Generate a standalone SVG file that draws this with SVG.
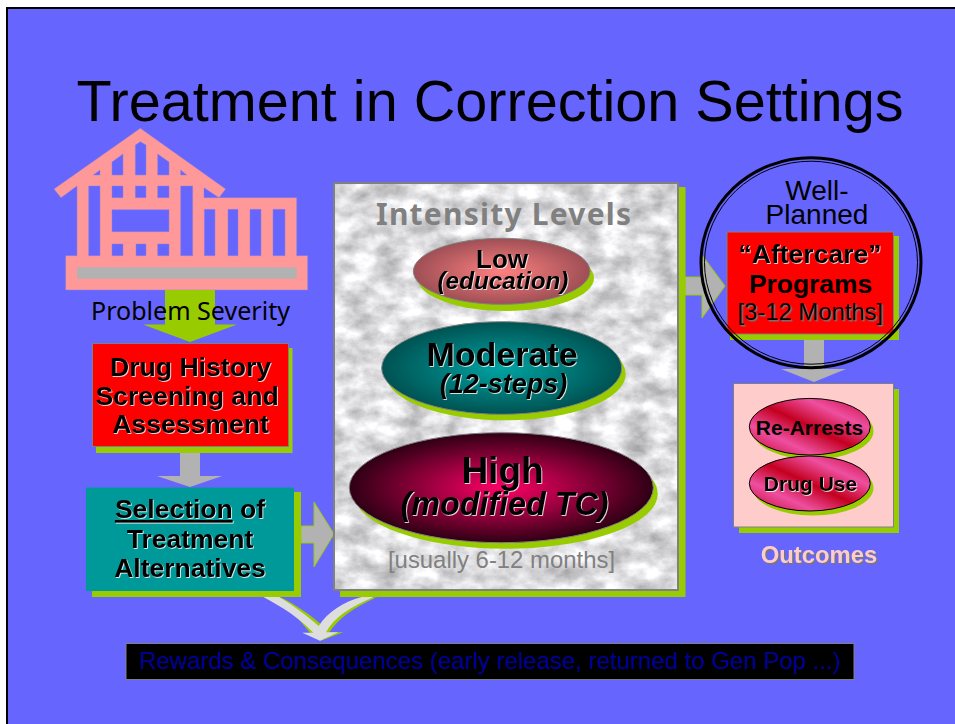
<svg xmlns="http://www.w3.org/2000/svg" width="955" height="724" viewBox="0 0 955 724">
<style>
text{font-family:"Liberation Sans",Arial,sans-serif;fill:#000;text-anchor:middle}
.b{font-weight:bold}.i{font-style:italic}
.sh{filter:url(#ws)}
.green{fill:#99CC00}
.box{stroke:#808080;stroke-width:1}
.ga{fill:#B2B2B2}
.gl{stroke:#99CC00;stroke-width:1}
.ring{fill:none;stroke:#000}
.oval{stroke:#000;stroke-width:1}
</style>
<defs>
<filter id="ws" x="-10%" y="-20%" width="120%" height="140%" color-interpolation-filters="sRGB"><feDropShadow dx=".8" dy=".8" stdDeviation="0" flood-color="#fff"/></filter>
<filter id="gs" x="-10%" y="-20%" width="120%" height="140%" color-interpolation-filters="sRGB"><feDropShadow dx="1.500" dy="1.500" stdDeviation="0" flood-color="#777"/></filter>
<filter id="marble" x="0" y="0" width="100%" height="100%" color-interpolation-filters="sRGB">
<feTurbulence type="fractalNoise" baseFrequency=".04 .055" numOctaves="6" seed="11"/>
<feColorMatrix values=".55 0 0 0 .595  .55 0 0 0 .595  .55 0 0 0 .605  0 0 0 0 1"/>
</filter>
<radialGradient id="gLow"><stop offset="0" stop-color="#FF8080"/><stop offset="1" stop-color="#9E4F55"/></radialGradient>
<radialGradient id="gMod"><stop offset="0" stop-color="#00A3A3"/><stop offset="1" stop-color="#005252"/></radialGradient>
<radialGradient id="gHigh"><stop offset="0" stop-color="#FF0066"/><stop offset="1" stop-color="#2E0014"/></radialGradient>
<linearGradient id="gOut" x1="0" y1="1" x2="1" y2="0"><stop offset="0" stop-color="#C40028"/><stop offset=".27" stop-color="#EE4FA0"/><stop offset=".5" stop-color="#C40020"/><stop offset=".73" stop-color="#EE4FA0"/><stop offset="1" stop-color="#C40028"/></linearGradient>
</defs>
<rect width="955" height="724" fill="#fff"/>
<rect x="7" y="8" width="960" height="730" fill="#6666FF" stroke="#000" stroke-width="2"/>
<g id="title"><text x="490" y="121" font-size="57.600">Treatment in Correction Settings</text></g>

<g id="connectors">
<g transform="translate(80 470) scale(.33333)">
<path class="green" d="M600,381 C650,405 690,435 722,462 C755,415 810,395 892,381 C825,410 775,445 748,487 L790,487 L722,512 L700,500 Z"/>
<path fill="#DDDDDD" d="M550,381 L598,381 C645,410 685,440 716,468 C745,425 790,395 845,381 L882,381 C810,410 760,445 738,487 L775,487 L720,512 L667,488 L700,488 C660,445 605,410 550,381 Z"/>
</g>
<path class="ga gl" d="M685,277H702V255L725,286L702,318V295H685Z"/>
<path class="ga gl" d="M301,526H314V502L334,534L314,567V543H301Z"/>
<path class="ga" d="M804,340H824V369H846L814,382L781,369H804Z"/>
<path class="ga" d="M180,447H200V476H222L190,487L157,476H180Z"/>
</g>

<g id="house">
<g transform="translate(40 120) scale(.33333)">
<path fill="#FF9999" stroke="#9480D8" stroke-width="1.500" fill-rule="evenodd" d="M301,25 L557,207 L537,233 L492,203 L492,233 L770,233 L770,407 L803,407 L803,510 L77,510 L77,407 L111,407 L111,198 L63,233 L42,207 Z
M146,198H180V407H146Z M422,198H458V407H422Z
M160,165L180,150V165Z M216,126L249,102V165H216Z M286,75L301,65L318,75V165H286Z M353,102L387,126V165H353Z M422,150L440,165H422Z
M216,198H249V233H216Z M286,198H318V233H286Z M353,198H387V233H353Z
M216,269H387V335H216Z
M216,372H249V407H216Z M288,372H318V407H288Z M353,372H387V407H353Z
M493,268H525V407H493Z M564,268H594V407H564Z M630,268H663V407H630Z M699,268H735V407H699Z"/>
<rect x="111" y="442" width="659" height="34" fill="#B2B2B2"/>
</g>
<path class="green" d="M165,290H215V324.500H237L190,342L143,324.500H165Z"/>
<text x="190.500" y="320" font-size="25" textLength="199" lengthAdjust="spacingAndGlyphs" style="font-family:'Noto Sans','Liberation Sans',sans-serif">Problem Severity</text>
</g>

<g id="screening">
<rect class="green" x="96" y="348" width="196.500" height="105"/>
<rect class="box" x="92.500" y="343.500" width="196" height="103" fill="#FF0000"/>
<text class="b sh" x="190.500" y="376" font-size="26.600">Drug History</text>
<text class="b sh" x="187" y="405" font-size="26.600">Screening and</text>
<text class="b sh" x="190.500" y="433" font-size="26.600">Assessment</text>
</g>

<g id="selection">
<rect class="green" x="92" y="492" width="209" height="105"/>
<rect x="86" y="487.500" width="208" height="103.500" fill="#009999"/>
<text class="b sh" x="190" y="518" font-size="26.500"><tspan text-decoration="underline">Selection</tspan> of</text>
<text class="b sh" x="190" y="548" font-size="26.500">Treatment</text>
<text class="b sh" x="190" y="577" font-size="26.500">Alternatives</text>
</g>

<g id="intensity">
<rect class="green" x="340" y="187" width="345.500" height="410"/>
<rect x="334" y="183" width="344" height="407" filter="url(#marble)"/>
<rect x="334" y="183" width="344" height="407" fill="none" stroke="#808080" stroke-width="2"/>
<text class="b" x="503.500" y="225" font-size="30" textLength="255" style="fill:#808080;font-family:'Noto Sans','Liberation Sans',sans-serif">Intensity Levels</text>
<text x="501.500" y="568" font-size="23.900" style="fill:#808080">[usually 6-12 months]</text>
</g>

<g id="low">
<ellipse class="green" cx="505.700" cy="278" rx="88.300" ry="33"/>
<ellipse cx="501.700" cy="271.300" rx="88.300" ry="33" fill="url(#gLow)" stroke="#808080"/>
<text class="b sh" x="502" y="268" font-size="26">Low</text>
<text class="b i sh" x="503" y="289" font-size="24.300">(education)</text>
</g>
<g id="moderate">
<ellipse class="green" cx="505.700" cy="374" rx="120" ry="46.300"/>
<ellipse cx="501.700" cy="368" rx="120" ry="46.300" fill="url(#gMod)" stroke="#808080"/>
<text class="b sh" x="502" y="366" font-size="34">Moderate</text>
<text class="b i sh" x="503.500" y="393" font-size="27">(12-steps)</text>
</g>
<g id="high">
<ellipse class="green" cx="505.800" cy="493.700" rx="152" ry="55"/>
<ellipse cx="501.300" cy="487.700" rx="152" ry="55" fill="url(#gHigh)" stroke="#808080"/>
<text class="b sh" x="502.500" y="483" font-size="37">High</text>
<text class="b i sh" x="504.500" y="515" font-size="32.300">(modified TC)</text>
</g>

<g id="aftercare">
<rect class="green" x="730" y="236" width="169" height="104"/>
<rect class="box" x="727" y="232" width="166.500" height="102" fill="#FF0000"/>
<text class="b sh" x="810" y="263" font-size="26.500">“Aftercare”</text>
<text class="b" x="810.500" y="293" font-size="26.400">Programs</text>
<text x="810.500" y="320" font-size="23.800" style="filter:url(#gs)">[3-12 Months]</text>
<ellipse class="ring" cx="811" cy="262.700" rx="110" ry="105" stroke-width="3"/>
<ellipse class="ring" cx="811" cy="262.700" rx="106.500" ry="101.500" stroke-width="1"/>
<text x="817" y="200" font-size="28">Well-</text>
<text x="817" y="224" font-size="28">Planned</text>
</g>

<g id="outcomes">
<rect class="green" x="739" y="389" width="160" height="144"/>
<rect class="box" x="733.500" y="383.500" width="160" height="143.500" fill="#FFCCCC"/>
<text class="b" x="819" y="562.500" font-size="23.800" style="fill:#FFCCCC;filter:url(#gs)">Outcomes</text>
</g>
<g id="rearrests">
<ellipse class="green" cx="813" cy="431" rx="60.500" ry="28.300"/>
<ellipse class="oval" cx="809.800" cy="426.700" rx="60.500" ry="28.300" fill="url(#gOut)"/>
<text class="b" x="809.500" y="434.500" font-size="21">Re-Arrests</text>
</g>
<g id="druguse">
<ellipse class="green" cx="813" cy="488" rx="60.500" ry="27.500"/>
<ellipse class="oval" cx="809.800" cy="483.500" rx="60.500" ry="27.500" fill="url(#gOut)"/>
<text class="b sh" x="810.500" y="491" font-size="21">Drug Use</text>
</g>

<g id="rewards">
<rect x="126" y="643.500" width="728" height="36" fill="#000" stroke="#808080"/>
<text x="490" y="669" font-size="24" style="fill:#000099">Rewards &amp; Consequences (early release, returned to Gen Pop ...)</text>
</g>
</svg>
